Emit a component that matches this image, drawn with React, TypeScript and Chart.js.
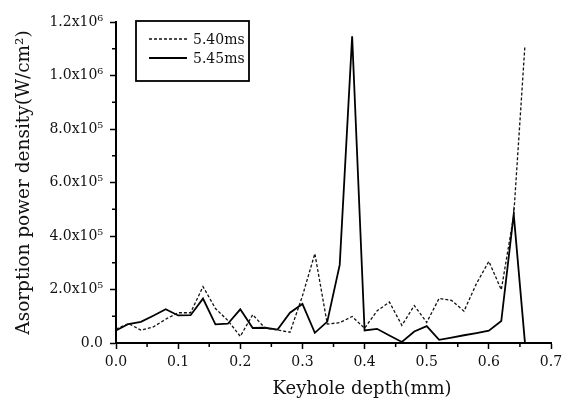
import React, { useEffect, useRef } from "react";
import { Chart, registerables } from "chart.js";

Chart.register(...registerables);

const depths = [
  0.0, 0.02, 0.04, 0.06, 0.08, 0.1, 0.12, 0.14, 0.16, 0.18, 0.2, 0.22, 0.24, 0.26, 0.28, 0.3, 0.32,
  0.34, 0.36, 0.38, 0.4, 0.42, 0.44, 0.46, 0.48, 0.5, 0.52, 0.54, 0.56, 0.58, 0.6, 0.62, 0.64, 0.658,
];

const series540 = [
  52000, 73000, 48000, 60000, 89000, 113000, 113000, 211000, 129000, 84000, 25000, 106000, 55000,
  49000, 40000, 176000, 334000, 71000, 76000, 99000, 55000, 120000, 153000, 66000, 140000, 77000,
  167000, 159000, 119000, 222000, 305000, 199000, 476000, 1110000,
];

const series545 = [
  47000, 71000, 79000, 102000, 126000, 103000, 104000, 166000, 70000, 72000, 126000, 56000, 57000,
  50000, 113000, 146000, 38000, 80000, 292000, 1147000, 47000, 53000, 28000, 4000, 43000, 63000,
  12000, 20000, 29000, 37000, 46000, 82000, 482000, 3000,
];

const seriesNames = ["5.40ms", "5.45ms"];
const xTicksMinor = [0.05, 0.15, 0.25, 0.35, 0.45, 0.55, 0.65];
const yTicksMinor = [100000, 300000, 500000, 700000, 900000, 1100000];

const SERIF = "'DejaVu Serif', serif";
const SUP: Record<string, string> = { "0": "⁰", "1": "¹", "2": "²", "3": "³", "4": "⁴", "5": "⁵", "6": "⁶", "7": "⁷", "8": "⁸", "9": "⁹" };

function fmtY(v: number): string {
  if (v === 0) return "0.0";
  const e = Math.floor(Math.log10(v) + 1e-9);
  const m = v / Math.pow(10, e);
  return m.toFixed(1) + "x10" + String(e).split("").map((c) => SUP[c]).join("");
}

const minorTicks = {
  id: "minorTicks",
  afterDraw(chart: any) {
    const ctx = chart.ctx;
    const xs = chart.scales.x;
    const ys = chart.scales.y;
    ctx.save();
    ctx.strokeStyle = "#000";
    ctx.lineWidth = 1.5;
    ctx.beginPath();
    for (const v of xTicksMinor) {
      const px = xs.getPixelForValue(v);
      ctx.moveTo(px, xs.top);
      ctx.lineTo(px, xs.top + 4);
    }
    for (const v of yTicksMinor) {
      const py = ys.getPixelForValue(v);
      ctx.moveTo(ys.right, py);
      ctx.lineTo(ys.right - 4, py);
    }
    ctx.stroke();
    ctx.restore();
  },
};

const boxLegend = {
  id: "boxLegend",
  afterDraw(chart: any) {
    const ctx = chart.ctx;
    const ca = chart.chartArea;
    const left = ca.left + 20;
    const top = ca.top - 1;
    const w = 113;
    const h = 60;
    ctx.save();
    ctx.fillStyle = "#fff";
    ctx.fillRect(left, top, w, h);
    ctx.strokeStyle = "#000";
    ctx.lineWidth = 1.8;
    ctx.strokeRect(left, top, w, h);
    chart.data.datasets.forEach((ds: any, i: number) => {
      const y = top + 18 + i * 19;
      ctx.beginPath();
      ctx.setLineDash(ds.borderDash || []);
      ctx.lineWidth = ds.borderWidth;
      ctx.strokeStyle = ds.borderColor;
      ctx.moveTo(left + 13, y);
      ctx.lineTo(left + 51, y);
      ctx.stroke();
      ctx.setLineDash([]);
      ctx.fillStyle = "#111";
      ctx.font = "14px " + SERIF;
      ctx.textBaseline = "middle";
      ctx.textAlign = "left";
      ctx.fillText(ds.label, left + 57, y + 1);
    });
    ctx.restore();
  },
};

export default function App() {
  const ref = useRef<HTMLCanvasElement | null>(null);
  useEffect(() => {
    if (!ref.current) return;
    const chart = new Chart(ref.current, {
      type: "line",
      data: {
        datasets: [
          {
            label: seriesNames[0],
            data: depths.map((x, i) => ({ x, y: series540[i] })),
            borderColor: "#111",
            borderWidth: 1.3,
            borderDash: [3, 2],
            pointRadius: 0,
            tension: 0,
            fill: false,
          },
          {
            label: seriesNames[1],
            data: depths.map((x, i) => ({ x, y: series545[i] })),
            borderColor: "#000",
            borderWidth: 1.8,
            pointRadius: 0,
            tension: 0,
            fill: false,
          },
        ],
      },
      options: {
        animation: false,
        responsive: false,
        maintainAspectRatio: false,
        layout: { padding: { left: 0, top: 22, right: 20, bottom: 0 } },
        plugins: { legend: { display: false }, tooltip: { enabled: false } },
        scales: {
          x: {
            type: "linear",
            min: 0,
            max: 0.7,
            afterFit: (s: any) => {
              s.height = 60;
            },
            ticks: {
              stepSize: 0.1,
              callback: (v: any) => Number(v).toFixed(1),
              font: { family: SERIF, size: 14 },
              color: "#111",
              padding: 5,
              maxRotation: 0,
            },
            grid: { drawOnChartArea: false, drawTicks: true, tickLength: 6, tickColor: "#000", tickWidth: 1.5 },
            border: { display: true, color: "#000", width: 2 },
            title: {
              display: true,
              text: "          Keyhole depth(mm)",
              font: { family: SERIF, size: 18 },
              color: "#111",
              padding: { top: 0, bottom: 3 },
            },
          },
          y: {
            type: "linear",
            min: 0,
            max: 1200000,
            afterFit: (s: any) => {
              s.width = 116;
            },
            ticks: {
              stepSize: 200000,
              callback: (v: any) => fmtY(Number(v)),
              font: { family: SERIF, size: 14 },
              color: "#111",
              padding: 7,
            },
            grid: { drawOnChartArea: false, drawTicks: true, tickLength: 6, tickColor: "#000", tickWidth: 1.5 },
            border: { display: true, color: "#000", width: 2 },
            title: {
              display: true,
              text: "Asorption power density(W/cm²)",
              font: { family: SERIF, size: 18.5 },
              color: "#111",
              padding: { top: 13, bottom: 0 },
            },
          },
        },
      },
      plugins: [minorTicks, boxLegend],
    });
    return () => chart.destroy();
  }, []);
  return (
    <div style={{ position: "fixed", left: 0, top: 0, width: 571, height: 403, background: "#fff" }}>
      <canvas ref={ref} width={571} height={403} style={{ width: 571, height: 403 }} />
    </div>
  );
}
